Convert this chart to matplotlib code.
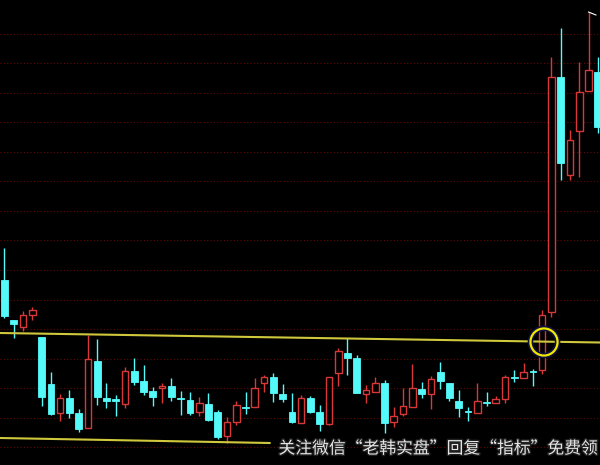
import numpy as np
import matplotlib.pyplot as plt
import matplotlib.patheffects as pe

plt.rcParams['font.family'] = ['Noto Sans CJK SC', 'DejaVu Sans']

# daily candles (price units)
opens = [18.5, 14.5, 13.8, 15.0, 12.8, 8.1, 5.2, 6.7, 5.2, 3.7,
         10.4, 6.7, 6.6, 6.1, 9.4, 8.4, 7.4, 7.7, 7.9, 6.75,
         6.5, 5.3, 6.1, 5.3, 2.9, 4.3, 5.85, 5.8, 8.2, 8.8,
         7.1, 5.3, 4.2, 6.7, 5.3, 4.1, 9.2, 11.2, 10.7, 7.1,
         7.3, 8.2, 4.3, 5.1, 5.8, 7.6, 7.1, 9.3, 8.2, 6.4,
         5.45, 5.2, 6.35, 6.2, 6.6, 8.85, 8.7, 9.45, 9.5, 15.3,
         38.8, 29.0, 33.4, 37.4, 39.3]
highs = [21.7, 14.5, 15.4, 15.8, 12.8, 9.3, 7.1, 7.5, 5.6, 13.0,
         12.6, 8.2, 7.0, 9.8, 10.7, 10.0, 7.8, 8.2, 8.7, 7.4,
         7.3, 6.8, 7.2, 5.5, 4.8, 6.4, 7.3, 8.7, 9.0, 9.2,
         8.1, 7.2, 7.0, 6.9, 6.0, 8.8, 11.7, 12.7, 11.0, 8.0,
         8.8, 8.5, 5.8, 7.7, 10.1, 8.3, 8.9, 10.3, 8.2, 7.5,
         5.8, 8.2, 7.3, 6.9, 9.0, 9.5, 10.2, 9.6, 15.5, 40.8,
         43.7, 33.5, 40.3, 45.3, 40.8]
lows = [14.7, 12.7, 13.4, 14.5, 5.9, 5.0, 4.4, 4.7, 3.3, 3.7,
        6.0, 5.7, 4.9, 5.7, 8.0, 7.0, 5.9, 6.2, 6.4, 5.0,
        5.0, 4.9, 4.4, 2.6, 2.2, 4.0, 5.1, 5.8, 7.3, 6.3,
        6.3, 4.2, 4.2, 5.2, 3.4, 4.0, 7.9, 9.0, 7.2, 6.2,
        7.3, 3.2, 3.8, 4.9, 5.8, 6.7, 5.6, 7.6, 6.4, 4.8,
        4.4, 5.2, 5.9, 6.2, 6.2, 8.3, 8.7, 7.9, 9.1, 14.8,
        28.5, 28.5, 28.8, 37.4, 33.2]
closes = [14.9, 14.1, 15.0, 15.5, 6.8, 5.1, 6.7, 5.2, 3.6, 10.6,
          6.8, 6.4, 6.4, 9.4, 8.3, 7.3, 6.8, 7.9, 6.8, 6.65,
          5.2, 6.2, 4.5, 2.8, 4.3, 6.0, 5.75, 7.7, 8.8, 7.2,
          6.6, 4.3, 6.7, 5.3, 4.1, 8.8, 11.4, 10.7, 7.2, 7.5,
          8.2, 4.2, 4.9, 5.9, 7.7, 7.1, 8.6, 8.4, 6.7, 5.7,
          5.35, 6.4, 6.25, 6.6, 8.8, 8.75, 9.3, 9.35, 15.0, 38.8,
          30.2, 32.5, 37.3, 39.5, 33.8]

# drawn lines: start / end price
neck_line = [13.2, 12.25]
base_line = [2.7, 2.2]
base_end = 28.6
grid_levels = [1.8, 4.75, 7.7, 10.65, 13.6, 16.55, 19.5, 22.45, 25.4,
               28.35, 31.3, 34.25, 37.2, 40.15, 43.1]
mark_x = 58.2
mark_price = 12.3

RED = '#d83838'
CYAN = '#54fafa'

fig = plt.figure(figsize=(6, 4.65), dpi=100, facecolor='black')
ax = fig.add_axes([0, 0, 1, 1])
ax.set_facecolor('black')
x0, x1 = -0.485, 64.24
ax.set_xlim(x0, x1)
ax.set_ylim(0, 46.5)
ax.axis('off')

for g in grid_levels:
    ax.axhline(g, color='#640808', lw=0.8, ls=(0, (1, 2)), zorder=0)

o = np.array(opens)
h = np.array(highs)
l = np.array(lows)
c = np.array(closes)
x = np.arange(len(o))
up = c > o
dn = ~up

# wicks
ax.vlines(x[dn], l[dn], h[dn], color=CYAN, lw=1, zorder=2)
ax.vlines(x[up], l[up], o[up], color=RED, lw=1, zorder=2)
ax.vlines(x[up], c[up], h[up], color=RED, lw=1, zorder=2)

# bodies
hgt = np.maximum(np.abs(c - o), 0.1)
ax.bar(x[dn], hgt[dn], bottom=np.minimum(o, c)[dn], width=0.72,
       color=CYAN, edgecolor=CYAN, lw=0.6, zorder=3)
ax.bar(x[up], hgt[up], bottom=o[up], width=0.72,
       facecolor='black', edgecolor=RED, lw=1, zorder=3)

# yellow lines
ax.plot([x0, x1], neck_line, color='#cfc83c', lw=1.5, zorder=4)
ax.plot([x0, base_end], base_line, color='#cfc83c', lw=1.5, zorder=4)

ax.scatter([mark_x], [mark_price], s=380, facecolors='none',
           edgecolors='#f0e800', linewidths=1.6, zorder=5,
           path_effects=[pe.withStroke(linewidth=4, foreground='#101040')])

# highest price marker
ax.plot([63, 63.8], [h[63], h[63] - 0.3], color='white', lw=0.8, zorder=5)

fig.text(0.995, 1 - 449 / 465, '关注微信“老韩实盘”回复“指标”免费领',
         ha='right', va='center', fontsize=12.1, color='#e4e4e4',
         path_effects=[pe.withStroke(linewidth=2, foreground='#202020')])

fig.savefig('out.png', dpi=100, facecolor='black')
